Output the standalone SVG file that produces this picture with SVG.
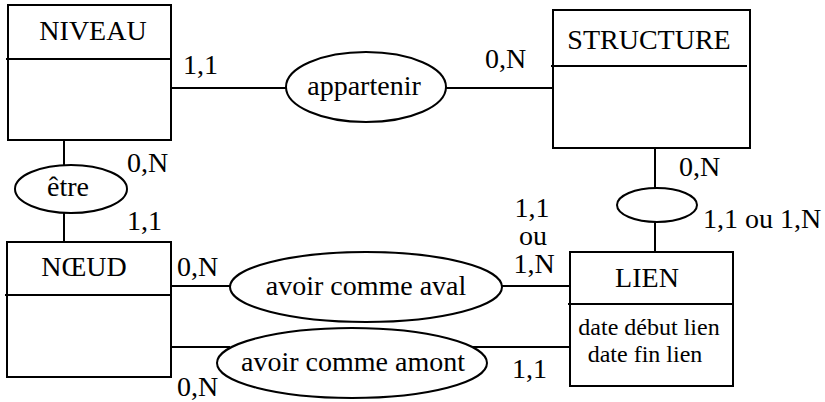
<svg xmlns="http://www.w3.org/2000/svg" width="825" height="402" viewBox="0 0 825 402">
<style>
.s{fill:none;stroke:#000;stroke-width:2}
.e{fill:#fff;stroke:#000;stroke-width:2}
text{font-family:"Liberation Serif","Times New Roman",serif;font-size:28px;fill:#000}
.c{text-anchor:middle}
.a{font-size:24px}
</style>
<rect width="825" height="402" fill="#fff"/>
<g id="connectors" class="s">
<line x1="171" y1="88" x2="287" y2="88"/>
<line x1="445" y1="88" x2="553" y2="88"/>
<line x1="64" y1="140" x2="64" y2="166"/>
<line x1="64" y1="212" x2="64" y2="242"/>
<line x1="655" y1="148" x2="655" y2="188"/>
<line x1="655" y1="222" x2="655" y2="252"/>
<line x1="171" y1="286" x2="231" y2="286"/>
<line x1="501" y1="286" x2="570" y2="286"/>
<line x1="171" y1="347" x2="230" y2="347"/>
<line x1="473" y1="347" x2="570" y2="347"/>
</g>
<g id="niveau">
<rect class="s" x="8" y="5" width="163" height="135"/>
<line class="s" x1="6" y1="59" x2="171" y2="59"/>
<text class="c" x="93" y="40">NIVEAU</text>
</g>
<g id="structure">
<rect class="s" x="553" y="10" width="197" height="138"/>
<line class="s" x1="551" y1="66" x2="747" y2="66"/>
<text class="c" x="649" y="49">STRUCTURE</text>
</g>
<g id="noeud">
<rect class="s" x="7" y="242" width="164" height="135"/>
<line class="s" x1="5" y1="295" x2="171" y2="295"/>
<text class="c" x="84" y="276">NŒUD</text>
</g>
<g id="lien">
<rect class="s" x="570" y="252" width="163" height="134"/>
<line class="s" x1="568" y1="304" x2="733" y2="304"/>
<text class="c" x="647" y="287">LIEN</text>
<text class="c a" x="649" y="335">date début lien</text>
<text class="c a" x="645" y="362">date fin lien</text>
</g>
<g id="appartenir">
<ellipse class="e" cx="366" cy="87" rx="80" ry="35"/>
<text class="c" x="364" y="95">appartenir</text>
</g>
<g id="etre">
<ellipse class="e" cx="71" cy="189" rx="56" ry="24"/>
<text class="c" x="68" y="196">être</text>
</g>
<g id="assoc-structure-lien">
<ellipse class="e" cx="657" cy="205" rx="40" ry="17"/>
</g>
<g id="aval">
<ellipse class="e" cx="366" cy="287" rx="136" ry="35"/>
<text class="c" x="366" y="295">avoir comme aval</text>
</g>
<g id="amont">
<ellipse class="e" cx="352" cy="363" rx="135" ry="35"/>
<text class="c" x="353" y="371">avoir comme amont</text>
</g>
<g id="labels">
<text x="183" y="74">1,1</text>
<text x="485" y="68">0,N</text>
<text x="127" y="172">0,N</text>
<text x="127" y="230">1,1</text>
<text x="679" y="176">0,N</text>
<text x="703" y="228">1,1 ou 1,N</text>
<text class="c" x="532" y="217">1,1</text>
<text class="c" x="533" y="245">ou</text>
<text class="c" x="534" y="273">1,N</text>
<text x="177" y="276">0,N</text>
<text x="177" y="396">0,N</text>
<text x="512" y="378">1,1</text>
</g>
</svg>
